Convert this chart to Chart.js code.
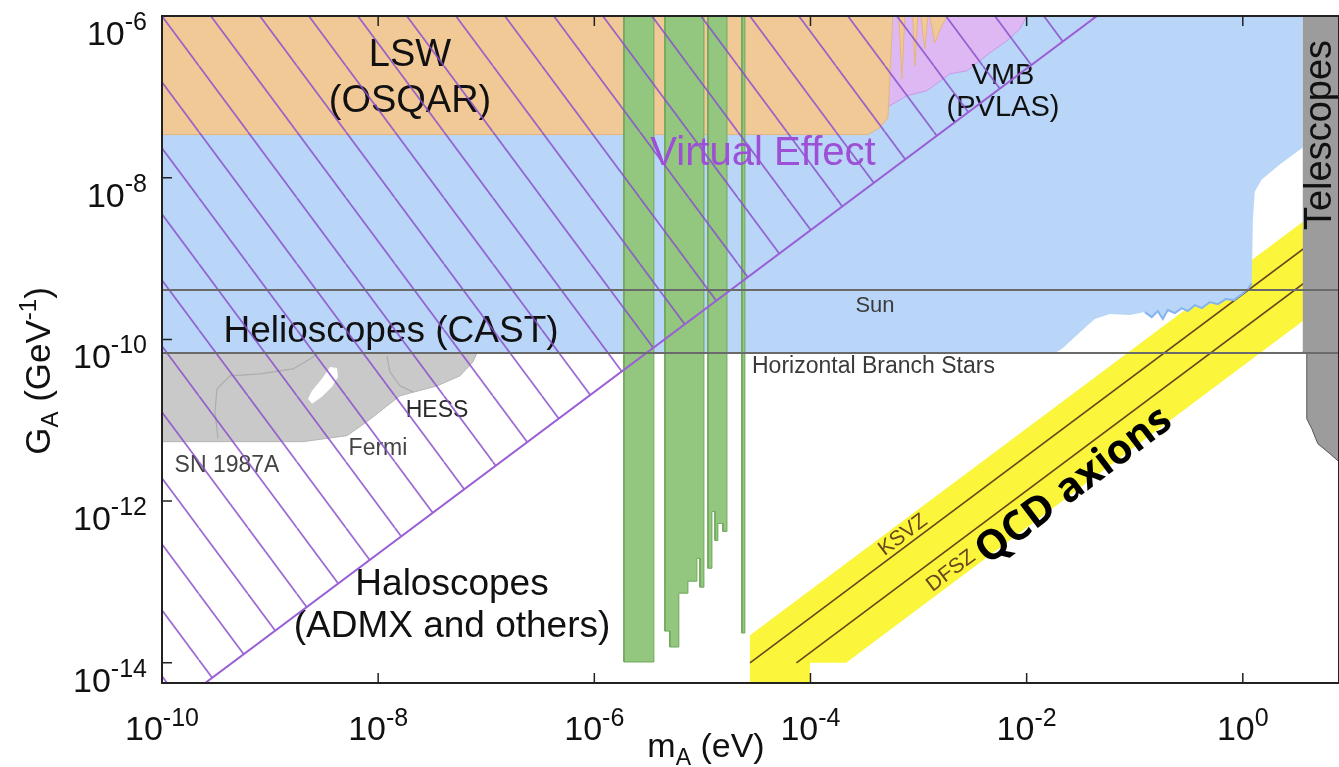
<!DOCTYPE html>
<html lang="en">
<head>
<meta charset="utf-8">
<title>Axion parameter space</title>
<script src="https://cdn.jsdelivr.net/npm/chart.js@4.4.1/dist/chart.umd.min.js"></script>
<style>
    html, body { margin: 0; padding: 0; background: #fff; }
    #chartWrap { position: relative; width: 1339px; height: 767px; }
</style>
</head>
<body>
<div id="chartWrap"><canvas id="axionChart"></canvas></div>
<script>
// All values are log10 of m_A (eV) and G_A (GeV^-1)

// Axis ranges and labelled decades
const massRange = [-10, 0.89];
const couplingRange = [-14.25, -6];
const massTicks = [-10, -8, -6, -4, -2, 0];
const couplingTicks = [-6, -8, -10, -12, -14];

// Helioscopes (CAST)
const helioMass = [-10, 0.555, 0.555, 0.342, 0.176, 0.111, 0.093, 0.083, 0.046, -0.009, -0.083, -0.157, -0.231, -0.305, -0.379, -0.444, -0.509, -0.564, -0.629, -0.694, -0.74, -0.786, -0.842, -0.907, -1.045, -1.23, -1.369, -1.443, -1.554, -1.674, -1.739, -10];
const helioCoupling = [-6, -6, -7.628, -7.837, -8.022, -8.17, -8.515, -9.305, -9.379, -9.44, -9.514, -9.502, -9.564, -9.539, -9.613, -9.576, -9.65, -9.613, -9.674, -9.637, -9.748, -9.65, -9.724, -9.662, -9.699, -9.687, -9.748, -9.835, -9.97, -10.118, -10.168, -10.168];

// CAST data edge
const castEdgeMass = [-0.907, -0.842, -0.786, -0.74, -0.694, -0.629, -0.564, -0.509, -0.444, -0.379, -0.305, -0.231, -0.157, -0.083, -0.009, 0.046, 0.083];
const castEdgeCoupling = [-9.662, -9.724, -9.65, -9.748, -9.637, -9.674, -9.613, -9.65, -9.576, -9.613, -9.539, -9.564, -9.502, -9.514, -9.44, -9.379, -9.305];

// LSW (OSQAR)
const lswMass = [-10, -10, -3.469, -3.358, -3.284, -3.238, -3.182, -3.155, -3.127, -3.053, -3.034, -3.007, -2.979, -2.942, -2.914, -2.896, -2.849, -2.803, -2.738];
const lswCoupling = [-6, -7.467, -7.467, -7.381, -7.258, -6, -6, -6.777, -6, -6, -6.617, -6, -6, -6.407, -6, -6, -6.333, -6.173, -6];

// VMB (PVLAS)
const vmbMass = [-3.312, -3.312, -3.266, -3.108, -2.923, -2.71, -2.553, -2.34, -2.183, -2.063, -1.998];
const vmbCoupling = [-6, -7.134, -7.11, -6.986, -6.925, -6.715, -6.678, -6.456, -6.308, -6.16, -6];

// SN 1987A / Fermi / HESS
const astroMass = [-10, -7.086, -7.123, -7.243, -7.456, -7.798, -8.104, -8.289, -8.696, -10];
const astroCoupling = [-10.168, -10.168, -10.279, -10.451, -10.575, -10.698, -11.018, -11.191, -11.265, -11.265];
const astroHoleMass = [-8.612, -8.52, -8.427, -8.372, -8.381, -8.446, -8.52, -8.612, -8.649];
const astroHoleCoupling = [-10.797, -10.71, -10.587, -10.464, -10.353, -10.34, -10.488, -10.636, -10.735];
const fermiOutlineMass = [-9.482, -9.51, -9.491, -9.371, -9.093, -8.788, -8.631, -8.566];
const fermiOutlineCoupling = [-11.228, -10.895, -10.612, -10.451, -10.427, -10.365, -10.242, -10.18];
const hessOutlineMass = [-7.919, -7.891, -7.798, -7.678];
const hessOutlineCoupling = [-10.205, -10.402, -10.575, -10.649];

// Telescopes
const telescopeMass = [0.555, 0.89, 0.89, 0.805, 0.694, 0.638, 0.592, 0.592, 0.555];
const telescopeCoupling = [-6, -6, -11.512, -11.413, -11.29, -11.105, -10.982, -10.18, -10.155];

// QCD axion band and model lines
const qcdBandMass = [-4.56, -4.56, 0.89, 0.89, -3.67, -4.005, -4.005];
const qcdBandCoupling = [-14.3, -13.66, -8.21, -9.44, -14.0, -14.0, -14.3];
const ksvzMass = [-4.56, 0.89];
const ksvzCoupling = [-14.0, -8.55];
const dfszMass = [-4.13, 0.89];
const dfszCoupling = [-14.0, -8.98];

// Haloscopes (ADMX and others)
const admx1Mass = [-5.726, -5.726, -5.449, -5.449];
const admx1Coupling = [-6, -13.99, -13.99, -6];
const admx2Mass = [-5.347, -5.347, -5.301, -5.301, -5.218, -5.218, -5.134, -5.134, -5.051, -5.051, -5.023, -5.023, -4.986, -4.986];
const admx2Coupling = [-6, -13.608, -13.608, -13.805, -13.805, -13.139, -13.139, -12.991, -12.991, -12.708, -12.708, -13.065, -13.065, -6];
const admx3Mass = [-4.949, -4.949, -4.912, -4.912, -4.884, -4.884, -4.857, -4.857, -4.81, -4.81, -4.773, -4.773];
const admx3Coupling = [-6, -12.831, -12.831, -12.128, -12.128, -12.486, -12.486, -12.276, -12.276, -12.375, -12.375, -6];
const admx4Mass = [-4.635, -4.635, -4.607, -4.607];
const admx4Coupling = [-6, -13.632, -13.632, -6];

// Virtual effect boundary (hatched side)
const virtualMass = [-10, -1.35, -10];
const virtualCoupling = [-14.65, -6, -6];

// Astrophysical horizontal limits
const sunMass = [-10, 0.89];
const sunCoupling = [-9.39, -9.39];
const hbMass = [-10, 0.89];
const hbCoupling = [-10.168, -10.168];

const FONT = '"Liberation Sans", Arial, Helvetica, sans-serif';

const regionLabels = [
    { text: 'LSW', x: 410, y: 66, size: 38 },
    { text: '(OSQAR)', x: 410, y: 112, size: 38 },
    { text: 'VMB', x: 1003, y: 84, size: 29 },
    { text: '(PVLAS)', x: 1003, y: 116, size: 29 },
    { text: 'Helioscopes (CAST)', x: 391, y: 342, size: 37 },
    { text: 'Sun', x: 875, y: 312, size: 22, color: '#3a3a3a' },
    { text: 'Horizontal Branch Stars', x: 752, y: 373, size: 23, color: '#3a3a3a', align: 'left' },
    { text: 'HESS', x: 437, y: 417, size: 23, color: '#2a2a2a' },
    { text: 'Fermi', x: 378, y: 455, size: 23, color: '#444' },
    { text: 'SN 1987A', x: 227, y: 472, size: 23, color: '#444' },
    { text: 'Haloscopes', x: 452, y: 595, size: 37 },
    { text: '(ADMX and others)', x: 452, y: 637, size: 37 }
];

const rotatedLabels = [
    { text: 'KSVZ', x: 903, y: 535, size: 21, angle: -37, color: '#6b451c' },
    { text: 'DFSZ', x: 951, y: 571, size: 21, angle: -37, color: '#6b451c' },
    { text: 'QCD axions', x: 1074, y: 486, size: 41, angle: -37, color: '#000', font: '700 41px "Open Sans", sans-serif' },
    { text: 'Telescopes', x: 1321, y: 135, size: 38, angle: -90, color: '#111' }
];

/**
 * Turn two exponent arrays into {x, y} points for the log scales
 */
function toPoints(massExp, couplingExp) {
    return massExp.map((m, i) => ({ x: Math.pow(10, m), y: Math.pow(10, couplingExp[i]) }));
}

/**
 * Diagonal purple hatch used for the virtual effect region
 */
function makeHatchPattern() {
    const w = 49, h = 66;
    const tile = document.createElement('canvas');
    tile.width = w;
    tile.height = h;
    const tctx = tile.getContext('2d');
    tctx.strokeStyle = 'rgba(138, 80, 205, 0.85)';
    tctx.lineWidth = 1.7;
    [-w, 0, w].forEach(off => {
        tctx.beginPath();
        tctx.moveTo(off, 0);
        tctx.lineTo(off + w, h);
        tctx.stroke();
    });
    const pattern = tctx.createPattern(tile, 'repeat');
    if (pattern.setTransform) pattern.setTransform(new DOMMatrix().translateSelf(3, 0));
    return pattern;
}

/**
 * Filled region (closed polygon) dataset
 */
function region(label, massExp, couplingExp, fillColor, borderColor, borderWidth) {
    return {
        label: label,
        data: toPoints(massExp, couplingExp),
        backgroundColor: fillColor,
        borderColor: borderColor || 'transparent',
        borderWidth: borderWidth || 0,
        fill: 'shape'
    };
}

/**
 * Plain line dataset
 */
function curve(label, massExp, couplingExp, color, width) {
    return {
        label: label,
        data: toPoints(massExp, couplingExp),
        borderColor: color,
        borderWidth: width,
        fill: false
    };
}

/**
 * Draw text made of pieces (for super/subscripts)
 */
function drawRichText(ctx, parts, x, y, align) {
    let total = 0;
    parts.forEach(p => {
        ctx.font = p.font;
        p.w = ctx.measureText(p.text).width;
        total += p.w;
    });
    let cx = align === 'center' ? x - total / 2 : align === 'right' ? x - total : x;
    ctx.textAlign = 'left';
    parts.forEach(p => {
        ctx.font = p.font;
        ctx.fillText(p.text, cx, y + (p.dy || 0));
        cx += p.w;
    });
}

function drawRegionLabels(ctx) {
    ctx.save();
    ctx.textBaseline = 'alphabetic';
    regionLabels.forEach(l => {
        ctx.fillStyle = l.color || '#111';
        ctx.font = l.size + 'px ' + FONT;
        ctx.textAlign = l.align || 'center';
        ctx.fillText(l.text, l.x, l.y);
    });
    rotatedLabels.forEach(l => {
        ctx.save();
        ctx.translate(l.x, l.y);
        ctx.rotate(l.angle * Math.PI / 180);
        ctx.fillStyle = l.color;
        ctx.font = l.font || (l.size + 'px ' + FONT);
        ctx.textAlign = 'center';
        ctx.textBaseline = 'middle';
        ctx.fillText(l.text, 0, 0);
        ctx.restore();
    });
    ctx.restore();
}

// Frame, inward ticks, power-of-ten labels and axis titles
const axionDecor = {
    id: 'axionDecor',
    afterDatasetDraw(chart, args) {
        const ds = chart.data.datasets[args.index];
        if (ds && ds.labelsAfter) drawRegionLabels(chart.ctx);
    },
    afterDatasetsDraw(chart) {
        const ctx = chart.ctx;
        const area = chart.chartArea;
        const xs = chart.scales.x;
        const ys = chart.scales.y;
        ctx.save();

        // Virtual effect label sits on top of the hatch
        ctx.fillStyle = '#9d4fd6';
        ctx.font = '40px ' + FONT;
        ctx.textAlign = 'center';
        ctx.textBaseline = 'alphabetic';
        ctx.fillText('Virtual Effect', 763, 165);

        // Frame
        ctx.strokeStyle = '#222';
        ctx.lineWidth = 2;
        ctx.strokeRect(area.left, area.top, area.right - area.left, area.bottom - area.top);

        // Ticks
        ctx.lineWidth = 1.5;
        ctx.beginPath();
        massTicks.forEach(e => {
            const px = xs.getPixelForValue(Math.pow(10, e));
            ctx.moveTo(px, area.bottom); ctx.lineTo(px, area.bottom - 10);
            ctx.moveTo(px, area.top); ctx.lineTo(px, area.top + 10);
        });
        couplingTicks.forEach(e => {
            const py = ys.getPixelForValue(Math.pow(10, e));
            ctx.moveTo(area.left, py); ctx.lineTo(area.left + 10, py);
        });
        ctx.stroke();

        // Tick labels
        ctx.fillStyle = '#111';
        ctx.textBaseline = 'alphabetic';
        massTicks.forEach(e => {
            const px = xs.getPixelForValue(Math.pow(10, e));
            drawRichText(ctx, [
                { text: '10', font: '34px ' + FONT },
                { text: String(e), font: '25px ' + FONT, dy: -14 }
            ], px, area.bottom + 57, 'center');
        });
        couplingTicks.forEach(e => {
            const py = ys.getPixelForValue(Math.pow(10, e));
            drawRichText(ctx, [
                { text: '10', font: '34px ' + FONT },
                { text: String(e), font: '25px ' + FONT, dy: -15 }
            ], 147, py + 29, 'right');
        });

        // Axis titles
        drawRichText(ctx, [
            { text: 'm', font: '34px ' + FONT },
            { text: 'A', font: '23px ' + FONT, dy: 8 },
            { text: ' (eV)', font: '34px ' + FONT }
        ], 706, 757, 'center');

        ctx.save();
        ctx.translate(50, 371);
        ctx.rotate(-Math.PI / 2);
        drawRichText(ctx, [
            { text: 'G', font: '35px ' + FONT },
            { text: 'A', font: '24px ' + FONT, dy: 8 },
            { text: ' (GeV', font: '35px ' + FONT },
            { text: '-1', font: '24px ' + FONT, dy: -14 },
            { text: ')', font: '35px ' + FONT }
        ], 0, 0, 'center');
        ctx.restore();

        ctx.restore();
    }
};

document.addEventListener('DOMContentLoaded', () => {
    initAxionChart();
});

/**
 * Build the exclusion plot
 */
function initAxionChart() {
    const canvas = document.getElementById('axionChart');
    if (!canvas) return;

    const telescopes = region('Telescopes', telescopeMass, telescopeCoupling, '#9c9c9c', '#555', 1);
    telescopes.labelsAfter = true;

    // listed back to front
    const layers = [
        region('QCD axions', qcdBandMass, qcdBandCoupling, '#fbf63c'),
        curve('KSVZ', ksvzMass, ksvzCoupling, '#6b451c', 1.6),
        curve('DFSZ', dfszMass, dfszCoupling, '#6b451c', 1.6),
        region('Helioscopes (CAST)', helioMass, helioCoupling, '#b9d5f8'),
        curve('CAST edge', castEdgeMass, castEdgeCoupling, '#86b4ef', 2),
        region('VMB (PVLAS)', vmbMass, vmbCoupling, '#ddb8f2', '#c69ae6', 1),
        region('LSW (OSQAR)', lswMass, lswCoupling, '#f1c996', '#e3b57c', 1),
        region('Astrophysics', astroMass, astroCoupling, '#c9c9c9', '#b5b5b5', 1),
        region('Astrophysics gap', astroHoleMass, astroHoleCoupling, '#ffffff'),
        curve('Fermi', fermiOutlineMass, fermiOutlineCoupling, '#adadad', 1.2),
        curve('HESS', hessOutlineMass, hessOutlineCoupling, '#adadad', 1.2),
        region('ADMX 1', admx1Mass, admx1Coupling, '#93c67e', '#6fa85a', 1),
        region('ADMX 2', admx2Mass, admx2Coupling, '#93c67e', '#6fa85a', 1),
        region('ADMX 3', admx3Mass, admx3Coupling, '#93c67e', '#6fa85a', 1),
        region('ADMX 4', admx4Mass, admx4Coupling, '#93c67e', '#6fa85a', 1),
        telescopes,
        region('Virtual Effect', virtualMass, virtualCoupling, makeHatchPattern(), '#9a5fd6', 2),
        curve('Sun', sunMass, sunCoupling, '#6a6a6a', 2),
        curve('Horizontal Branch Stars', hbMass, hbCoupling, '#6a6a6a', 2)
    ];
    const datasets = layers.map((d, i) => Object.assign(d, { order: layers.length - i }));

    new Chart(canvas, {
        type: 'line',
        data: { datasets: datasets },
        options: {
            responsive: true,
            maintainAspectRatio: false,
            animation: false,
            devicePixelRatio: 1,
            events: [],
            layout: {
                padding: { left: 162, top: 16, right: 0, bottom: 84 }
            },
            elements: {
                point: { radius: 0, hoverRadius: 0 },
                line: { tension: 0 }
            },
            plugins: {
                legend: { display: false },
                tooltip: { enabled: false }
            },
            scales: {
                x: {
                    type: 'logarithmic',
                    min: Math.pow(10, massRange[0]),
                    max: Math.pow(10, massRange[1]),
                    bounds: 'data',
                    display: false
                },
                y: {
                    type: 'logarithmic',
                    min: Math.pow(10, couplingRange[0]),
                    max: Math.pow(10, couplingRange[1]),
                    bounds: 'data',
                    display: false
                }
            }
        },
        plugins: [axionDecor]
    });
}
</script>
</body>
</html>
